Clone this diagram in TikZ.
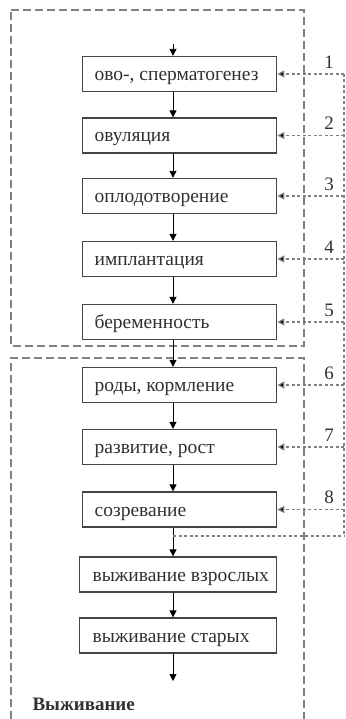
\documentclass[tikz,border=0pt]{standalone}
\usepackage{fontspec}
\setmainfont{Liberation Serif}
\usetikzlibrary{arrows.meta}
\definecolor{boxline}{HTML}{444444}
\definecolor{dashgray}{HTML}{808080}
\definecolor{txt}{HTML}{303030}
\newcommand{\stagetext}[2]{\makebox[#1][l]{#2}}
\begin{document}
\begin{tikzpicture}[x=1pt,y=-1pt,
  stage/.style={draw=boxline,line width=1.3pt,minimum height=35pt,inner xsep=12pt,inner ysep=0pt,
     text height=14pt,text depth=1pt,
     anchor=west,text=txt,font=\fontsize{19.5}{21}\selectfont},
  flow/.style={draw=black,line width=0.9pt,-{Triangle[length=7pt,width=7pt]}},
  region/.style={draw=dashgray,line width=1.5pt,dash pattern=on 8pt off 4pt},
  feed/.style={draw=dashgray,line width=1.2pt,dash pattern=on 3pt off 2.5pt},
  feedarrow/.style={feed,-{Triangle[length=7pt,width=7pt,fill=black]}},
  num/.style={text=txt,font=\fontsize{19}{21}\selectfont}]
\useasboundingbox (0,0) rectangle (345,719);
% regions
\draw[region] (11,10) -- (304,10) -- (304,346) -- (11,346) -- cycle;
\draw[region] (11,719) -- (11,358) -- (304,358) -- (304,719);
% stages
\node[stage] (s1) at (82,74) {\stagetext{170pt}{ово-, сперматогенез}};
\node[stage] (s2) at (82,135.5) {\stagetext{170pt}{овуляция}};
\node[stage] (s3) at (82,196) {\stagetext{170pt}{оплодотворение}};
\node[stage] (s4) at (82,259) {\stagetext{170pt}{имплантация}};
\node[stage] (s5) at (82,322) {\stagetext{170pt}{беременность}};
\node[stage] (s6) at (82,385) {\stagetext{170pt}{роды, кормление}};
\node[stage] (s7) at (82,447) {\stagetext{170pt}{развитие, рост}};
\node[stage] (s8) at (82,509.5) {\stagetext{170pt}{созревание}};
\node[stage,inner xsep=13pt] (s9) at (79,574.5) {\stagetext{171pt}{выживание взрослых}};
\node[stage,inner xsep=13pt] (s10) at (79,635.5) {\stagetext{171pt}{выживание старых}};
% flow arrows
\coordinate (top) at (173,44);
\coordinate (bot) at (173,681);
\draw[flow] (top) -- (s1.north -| top);
\foreach \a/\b in {s1/s2,s2/s3,s3/s4,s4/s5,s5/s6,s6/s7,s7/s8,s8/s9,s9/s10}
  \draw[flow] (\a.south -| top) -- (\b.north -| top);
\draw[flow] (s10.south -| top) -- (bot);
% feedback
\coordinate (r1) at (344,74);
\coordinate (r8) at (344,536);
\coordinate (j8) at (173,536);
\draw[feed] (r1) -- (r8);
\draw[feed] (j8) -- (r8);
\foreach \s/\n in {s1/1,s2/2,s3/3,s4/4,s5/5,s6/6,s7/7,s8/8}{
  \draw[feedarrow] (\s.east -| r1) -- (\s.east);
  \node[num] (n\n) at ([yshift=12pt]\s.east -| 329,0) {\n};
}
\node[anchor=west,font=\bfseries\fontsize{19}{21}\selectfont,text=txt] (title) at (29,704) {Выживание};
\end{tikzpicture}
\end{document}
